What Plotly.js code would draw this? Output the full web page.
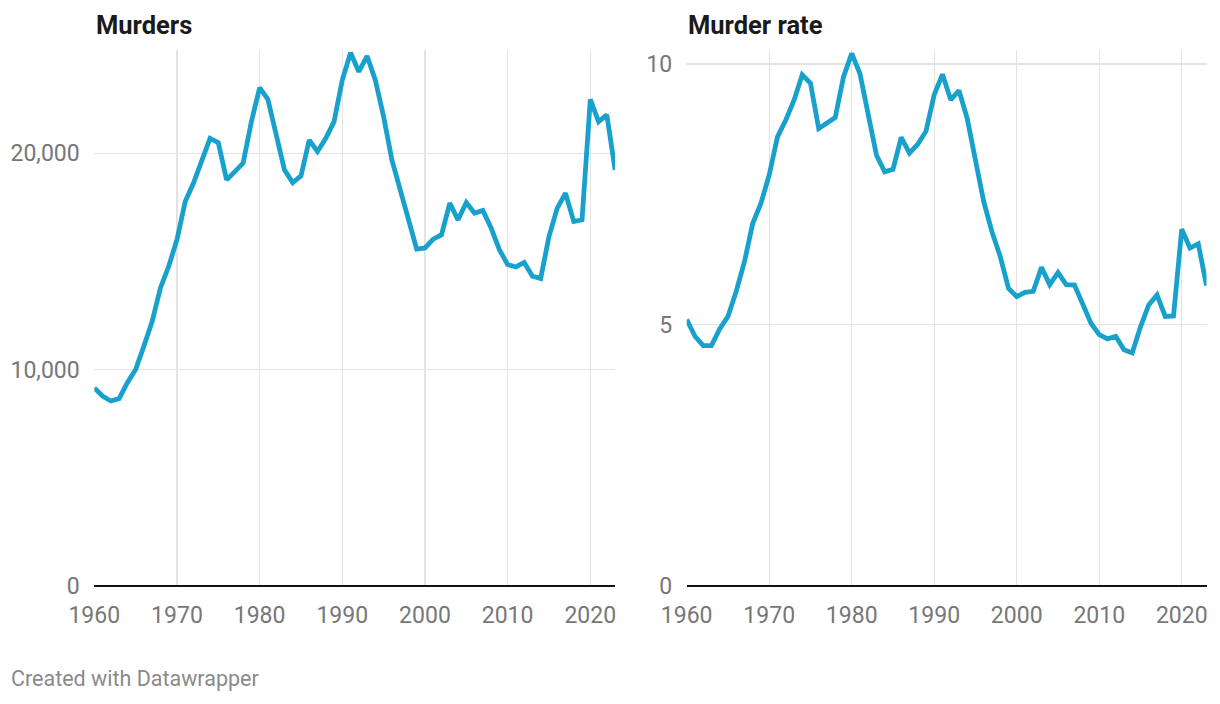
<!DOCTYPE html>
<html>
<head>
<meta charset="utf-8">
<script src="https://cdn.plot.ly/plotly-3.0.1.min.js"></script>
<style>
html,body{margin:0;padding:0;background:#fff;}
#chart{width:1220px;height:704px;}
</style>
</head>
<body>
<div id="chart"></div>
<script>
const years = [];
for (let y = 1960; y <= 2023; y++) years.push(y);

const murders = [9150, 8770, 8540, 8650, 9390, 10000, 11080, 12230, 13770, 14770,
  16000, 17770, 18620, 19610, 20690, 20490, 18770, 19150, 19540, 21460,
  23030, 22490, 20920, 19230, 18640, 18950, 20610, 20080, 20690, 21460,
  23380, 24650, 23770, 24490, 23380, 21690, 19690, 18310, 17070, 15570,
  15620, 16030, 16230, 17690, 16920, 17720, 17230, 17350, 16540, 15540,
  14850, 14740, 14950, 14310, 14210, 16150, 17460, 18150, 16840, 16920,
  22490, 21460, 21770, 19230];

const murderRate = [5.10, 4.78, 4.60, 4.60, 4.92, 5.16, 5.64, 6.21, 6.94, 7.33,
  7.87, 8.60, 8.92, 9.30, 9.79, 9.63, 8.76, 8.86, 8.97, 9.75,
  10.20, 9.81, 9.08, 8.25, 7.93, 7.98, 8.59, 8.29, 8.46, 8.71,
  9.41, 9.80, 9.31, 9.49, 8.95, 8.19, 7.36, 6.78, 6.31, 5.70,
  5.54, 5.62, 5.64, 6.10, 5.77, 6.00, 5.77, 5.76, 5.42, 5.03,
  4.81, 4.73, 4.78, 4.52, 4.46, 4.96, 5.38, 5.57, 5.16, 5.17,
  6.83, 6.47, 6.55, 5.75];

const xTicks = [1960, 1970, 1980, 1990, 2000, 2010, 2020];
const leftYTicks = [0, 10000, 20000];
const leftYLabels = ["0", "10,000", "20,000"];
const rightYTicks = [0, 5, 10];
const rightYLabels = ["0", "5", "10"];
const titles = ["Murders", "Murder rate"];
const footer = "Created with Datawrapper";

const W = 1220, H = 704;
const lineColor = "#18a1cd";
const gridColor = "#e3e3e3";
const tickFont = {family: "Roboto, sans-serif", size: 23, color: "#777777"};

const traces = [
  {x: years, y: murders, type: "scatter", mode: "lines", xaxis: "x", yaxis: "y",
   line: {color: lineColor, width: 4.8}, hoverinfo: "skip"},
  {x: years, y: murderRate, type: "scatter", mode: "lines", xaxis: "x2", yaxis: "y2",
   line: {color: lineColor, width: 4.8}, hoverinfo: "skip"}
];

function xAxis(domain, anchor) {
  return {
    domain: domain, anchor: anchor, range: [1960, 2023],
    tickvals: xTicks, ticktext: xTicks.map(String),
    showgrid: true, gridcolor: gridColor, gridwidth: 1.3,
    zeroline: false, showline: false,
    ticks: "outside", ticklen: 9, tickcolor: "rgba(0,0,0,0)",
    tickfont: tickFont, fixedrange: true
  };
}
function yAxis(domain, anchor, range, vals, labels) {
  return {
    domain: domain, anchor: anchor, range: range,
    tickvals: vals, ticktext: labels,
    showgrid: true, gridcolor: gridColor, gridwidth: 1.3,
    zeroline: true, zerolinecolor: "#111111", zerolinewidth: 2.2,
    showline: false,
    ticks: "outside", ticklen: 9, tickcolor: "rgba(0,0,0,0)",
    tickfont: tickFont, fixedrange: true
  };
}

const yDom = [(H - 585.7) / H, (H - 50.3) / H];
const xDomL = [94.3 / W, 615.1 / W];
const xDomR = [686.7 / W, 1206.5 / W];

const layout = {
  width: W, height: H,
  margin: {l: 0, r: 0, t: 0, b: 0},
  paper_bgcolor: "#ffffff", plot_bgcolor: "#ffffff",
  showlegend: false,
  font: {family: "Roboto, sans-serif"},
  xaxis: xAxis(xDomL, "y"),
  yaxis: yAxis(yDom, "x", [0, 24760], leftYTicks, leftYLabels),
  xaxis2: xAxis(xDomR, "y2"),
  yaxis2: yAxis(yDom, "x2", [0, 10.26], rightYTicks, rightYLabels),
  annotations: [
    {text: "<b>" + titles[0] + "</b>", xref: "paper", yref: "paper",
     x: 94 / W, y: (H - 25) / H, xanchor: "left", yanchor: "middle", showarrow: false,
     font: {family: "Roboto, sans-serif", size: 25.5, color: "#1a1a1a"}},
    {text: "<b>" + titles[1] + "</b>", xref: "paper", yref: "paper",
     x: 686 / W, y: (H - 25) / H, xanchor: "left", yanchor: "middle", showarrow: false,
     font: {family: "Roboto, sans-serif", size: 25.5, color: "#1a1a1a"}},
    {text: footer, xref: "paper", yref: "paper",
     x: 9 / W, y: (H - 678) / H, xanchor: "left", yanchor: "middle", showarrow: false,
     font: {family: "Roboto, sans-serif", size: 21.5, color: "#8a8a8a"}}
  ]
};

Plotly.newPlot("chart", traces, layout, {displayModeBar: false, staticPlot: true});
</script>
</body>
</html>
